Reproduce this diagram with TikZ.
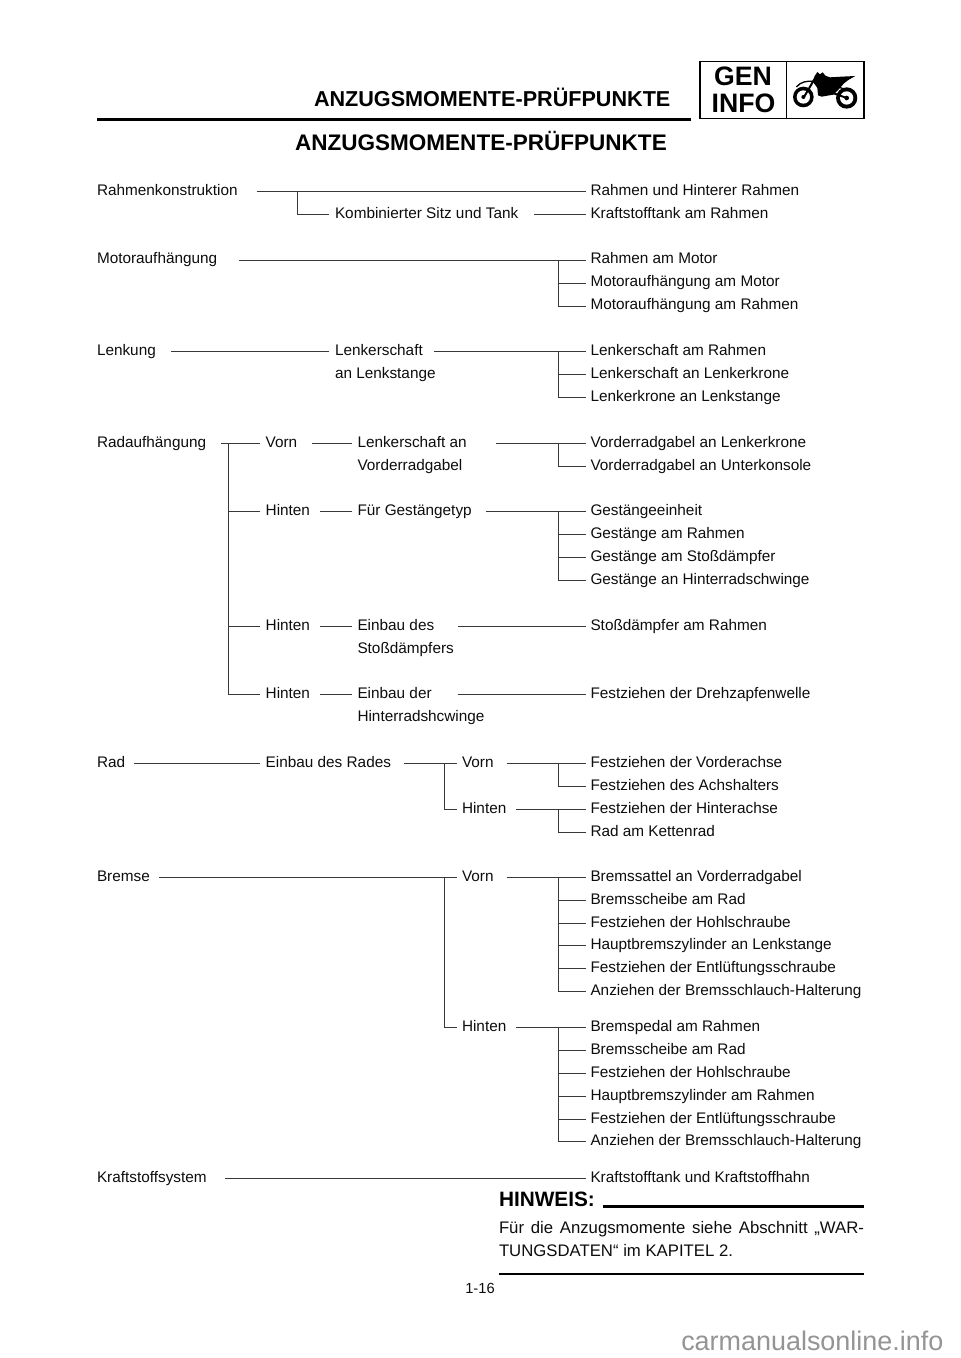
\documentclass[tikz,border=0pt]{standalone}
\usepackage{fontspec}
\setmainfont{Liberation Sans}
\definecolor{ink}{gray}{0.05}
\definecolor{wire}{gray}{0.22}
\newcommand\lk[4]{\draw[wire line] ([xshift=#2*0.75pt]#1.east) -- ([xshift=-#4*0.75pt]#3.west);}
\newcommand\br[3]{\draw[wire line] (#1) |- ([xshift=-#3*0.75pt]#2.west);}
\tikzset{
  lab/.style={anchor=west,inner sep=0pt,outer sep=0pt,text=ink,font=\fontsize{11.5}{13}\selectfont,text height=8.4pt,text depth=2.4pt},
  wire line/.style={draw=wire,line width=0.7pt},
  rule line/.style={draw=black,line width=1.7pt},
  plain/.style={anchor=base west,inner sep=0pt,outer sep=0pt,text=ink},
  head/.style={inner sep=0pt,outer sep=0pt,text=black,font=\fontsize{16.2}{18}\bfseries\selectfont,anchor=base west},
}
\begin{document}
\begin{tikzpicture}[x=0.75pt,y=-0.75pt]
\useasboundingbox (0,0) rectangle (960,1358);
\fill[white] (0,0) rectangle (960,1358);
% header
\node[head] (hd) at (314,106.5) {ANZUGSMOMENTE-PRÜFPUNKTE};
\node[head,font=\fontsize{16.9}{18}\bfseries\selectfont] (ttl) at (295,150.5) {ANZUGSMOMENTE-PRÜFPUNKTE};
\draw[rule line] (97,119.5) -- (691,119.5);
\draw[draw=black,line width=1.3pt] (700,61.5) rectangle (864,118.5);
\draw[draw=black,line width=0.6pt] (786,61.5) -- (786,118.5);
\node[inner sep=0pt,text=black,font=\fontsize{20}{20}\bfseries\selectfont,anchor=base] (gen) at (743,85.5) {GEN};
\node[inner sep=0pt,text=black,font=\fontsize{20}{20}\bfseries\selectfont,anchor=base] (inf) at (743.5,113) {INFO};
% motorcycle
\begin{scope}[shift={(780,62)},x=0.25pt,y=-0.25pt]
  \fill[black] (70,105) circle (31);
  \fill[white] (70,105) circle (20);
  \fill[black] (70,105) circle (6);
  \fill[black] (200,108) circle (32);
  \fill[white] (200,108) circle (20);
  \fill[black] (200,108) circle (7);
  \draw[black,line width=1.5pt] (72,105) -- (103,52);
  \draw[black,line width=1pt,line cap=round] (50,74) .. controls (62,60) and (80,56) .. (100,58);
  \fill[black] (98,58) -- (104,42) -- (112,30) -- (120,37) -- (128,31) -- (136,41) -- (150,46) -- (185,44) -- (226,42) -- (205,54) -- (192,64) -- (178,80) -- (160,98) -- (125,104) -- (114,100) -- (112,78) -- cycle;
  \draw[black,line width=1.4pt] (150,90) -- (200,108);
  \draw[black,line width=1pt] (178,76) -- (200,84);
\end{scope}
% Rahmenkonstruktion
\node[lab] (a1) at (97,191.5) {Rahmenkonstruktion};
\node[lab] (a2) at (335,214.4) {Kombinierter Sitz und Tank};
\node[lab] (r1) at (590.5,191.5) {Rahmen und Hinterer Rahmen};
\node[lab] (r2) at (590.5,214.4) {Kraftstofftank am Rahmen};
\coordinate (j1) at (297.5,191.5);
\lk{a1}{19}{r1}{5}
\br{j1}{a2}{6}
\lk{a2}{16}{r2}{5}
% Motoraufhaengung
\node[lab] (b1) at (97,260) {Motoraufhängung};
\node[lab] (r3) at (590.5,260) {Rahmen am Motor};
\node[lab] (r4) at (590.5,283) {Motoraufhängung am Motor};
\node[lab] (r5) at (590.5,306) {Motoraufhängung am Rahmen};
\coordinate (j2) at (558,260);
\lk{b1}{22}{r3}{5}
\br{j2}{r4}{5}
\br{j2}{r5}{5}
% Lenkung
\node[lab] (c1) at (97,351.5) {Lenkung};
\node[lab] (c2) at (335,351.5) {Lenkerschaft};
\node[lab] (c3) at (335,374.4) {an Lenkstange};
\node[lab] (r6) at (590.5,351.5) {Lenkerschaft am Rahmen};
\node[lab] (r7) at (590.5,374.4) {Lenkerschaft an Lenkerkrone};
\node[lab] (r8) at (590.5,397.3) {Lenkerkrone an Lenkstange};
\coordinate (j3) at (558,351.5);
\lk{c1}{15}{c2}{6}
\lk{c2}{11}{r6}{5}
\br{j3}{r7}{5}
\br{j3}{r8}{5}
% Radaufhaengung
\node[lab] (d1) at (97,443) {Radaufhängung};
\node[lab] (d2) at (265.7,443) {Vorn};
\node[lab] (d3) at (357.5,443) {Lenkerschaft an};
\node[lab] (d4) at (357.5,466) {Vorderradgabel};
\node[lab] (r9) at (590.5,443) {Vorderradgabel an Lenkerkrone};
\node[lab] (r10) at (590.5,466) {Vorderradgabel an Unterkonsole};
\coordinate (j4) at (558,443);
\coordinate (t1) at (228.5,443);
\lk{d1}{15}{d2}{6}
\lk{d2}{15}{d3}{6}
\lk{d3}{29}{r9}{5}
\br{j4}{r10}{5}
\node[lab] (e1) at (265.7,511.5) {Hinten};
\node[lab] (e2) at (357.5,511.5) {Für Gestängetyp};
\node[lab] (r11) at (590.5,511.5) {Gestängeeinheit};
\node[lab] (r12) at (590.5,534.4) {Gestänge am Rahmen};
\node[lab] (r13) at (590.5,557.3) {Gestänge am Stoßdämpfer};
\node[lab] (r14) at (590.5,580.2) {Gestänge an Hinterradschwinge};
\coordinate (j5) at (558,511.5);
\br{t1}{e1}{6}
\lk{e1}{10}{e2}{6}
\lk{e2}{14}{r11}{5}
\br{j5}{r12}{5}
\br{j5}{r13}{5}
\br{j5}{r14}{5}
\node[lab] (f1) at (265.7,626) {Hinten};
\node[lab] (f2) at (357.5,626) {Einbau des};
\node[lab] (f3) at (357.5,649) {Stoßdämpfers};
\node[lab] (r15) at (590.5,626) {Stoßdämpfer am Rahmen};
\br{t1}{f1}{6}
\lk{f1}{10}{f2}{6}
\lk{f2}{24}{r15}{5}
\node[lab] (g1) at (265.7,694.3) {Hinten};
\node[lab] (g2) at (357.5,694.3) {Einbau der};
\node[lab] (g3) at (357.5,717) {Hinterradshcwinge};
\node[lab] (r16) at (590.5,694.3) {Festziehen der Drehzapfenwelle};
\br{t1}{g1}{6}
\lk{g1}{10}{g2}{6}
\lk{g2}{26}{r16}{5}
% Rad
\node[lab] (h1) at (97,763.3) {Rad};
\node[lab] (h2) at (265.7,763.3) {Einbau des Rades};
\node[lab] (h3) at (462,763.3) {Vorn};
\node[lab] (h4) at (462,809) {Hinten};
\node[lab] (r17) at (590.5,763.3) {Festziehen der Vorderachse};
\node[lab] (r18) at (590.5,786.3) {Festziehen des Achshalters};
\node[lab] (r19) at (590.5,809) {Festziehen der Hinterachse};
\node[lab] (r20) at (590.5,832) {Rad am Kettenrad};
\coordinate (j6) at (444,763.3);
\coordinate (j7) at (558,763.3);
\coordinate (j8) at (558,809);
\lk{h1}{9}{h2}{6}
\lk{h2}{13}{h3}{5}
\lk{h3}{13}{r17}{5}
\br{j6}{h4}{5}
\lk{h4}{10}{r19}{5}
\br{j7}{r18}{5}
\br{j8}{r20}{5}
% Bremse
\node[lab] (i1) at (97,877) {Bremse};
\node[lab] (i2) at (462,877) {Vorn};
\node[lab] (i3) at (462,1027) {Hinten};
\node[lab] (r21) at (590.5,877) {Bremssattel an Vorderradgabel};
\node[lab] (r22) at (590.5,900) {Bremsscheibe am Rad};
\node[lab] (r23) at (590.5,923) {Festziehen der Hohlschraube};
\node[lab] (r24) at (590.5,945.8) {Hauptbremszylinder an Lenkstange};
\node[lab] (r25) at (590.5,968.7) {Festziehen der Entlüftungsschraube};
\node[lab] (r26) at (590.5,991.6) {Anziehen der Bremsschlauch-Halterung};
\node[lab] (r27) at (590.5,1027) {Bremspedal am Rahmen};
\node[lab] (r28) at (590.5,1050) {Bremsscheibe am Rad};
\node[lab] (r29) at (590.5,1073) {Festziehen der Hohlschraube};
\node[lab] (r30) at (590.5,1096) {Hauptbremszylinder am Rahmen};
\node[lab] (r31) at (590.5,1119) {Festziehen der Entlüftungsschraube};
\node[lab] (r32) at (590.5,1141.7) {Anziehen der Bremsschlauch-Halterung};
\coordinate (j9) at (444,877);
\coordinate (j10) at (558,877);
\coordinate (j11) at (558,1027);
\lk{i1}{9}{i2}{5}
\br{j9}{i3}{5}
\lk{i2}{13}{r21}{5}
\lk{i3}{10}{r27}{5}
\br{j10}{r22}{5}
\br{j10}{r23}{5}
\br{j10}{r24}{5}
\br{j10}{r25}{5}
\br{j10}{r26}{5}
\br{j11}{r28}{5}
\br{j11}{r29}{5}
\br{j11}{r30}{5}
\br{j11}{r31}{5}
\br{j11}{r32}{5}
% Kraftstoff
\node[lab] (k1) at (97,1178) {Kraftstoffsystem};
\node[lab] (r33) at (590.5,1178) {Kraftstofftank und Kraftstoffhahn};
\lk{k1}{18}{r33}{5}
% note
\node[plain,font=\fontsize{15.6}{18}\bfseries\selectfont,text=black] (hw) at (499,1206.5) {HINWEIS:};
\draw[rule line] (603,1206.5) -- (864,1206.5);
\node[plain,font=\fontsize{12.55}{15}\selectfont] (n1) at (499,1233) {\makebox[273.75pt][s]{Für die Anzugsmomente siehe Abschnitt „WAR-}};
\node[plain,font=\fontsize{12.55}{15}\selectfont] (n2) at (499,1256) {TUNGSDATEN“ im KAPITEL 2.};
\draw[rule line] (499,1274) -- (864,1274);
\node[plain,anchor=base,font=\fontsize{11}{13}\selectfont] (pg) at (480,1293) {1-16};
\node[inner sep=0pt,anchor=base west,text=black!42,font=\fontsize{20.2}{22}\selectfont] (wm) at (681,1350) {carmanualsonline.info};
\end{tikzpicture}
\end{document}
